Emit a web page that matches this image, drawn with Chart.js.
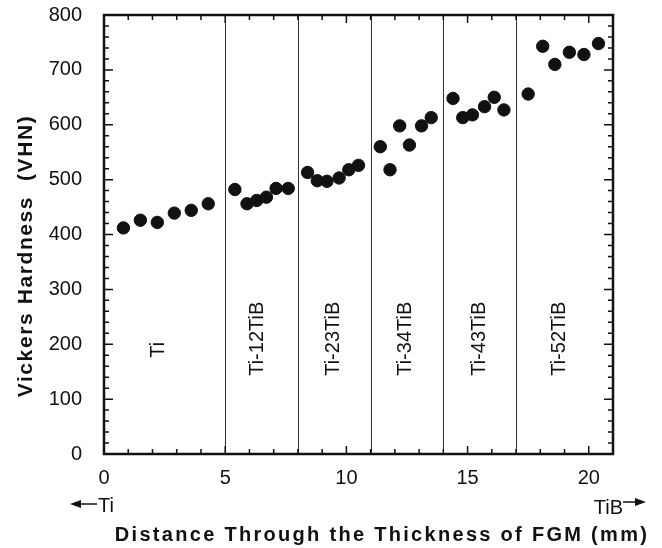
<!DOCTYPE html>
<html>
<head>
<meta charset="utf-8">
<script src="https://cdn.jsdelivr.net/npm/chart.js@4.4.1/dist/chart.umd.min.js"></script>
<style>
  html, body { margin: 0; padding: 0; background: #fff; }
  canvas { display: block; }
</style>
</head>
<body>
<canvas id="graph" width="662" height="548"></canvas>
<script>
// Dureza Vickers a lo largo del espesor del FGM
const distanciaMm = [0.8, 1.5, 2.2, 2.9, 3.6, 4.3,
                     5.4, 5.9, 6.3, 6.7, 7.1, 7.6,
                     8.4, 8.8, 9.2, 9.7, 10.1, 10.5,
                     11.4, 11.8, 12.2, 12.6, 13.1, 13.5,
                     14.4, 14.8, 15.2, 15.7, 16.1, 16.5,
                     17.5, 18.1, 18.6, 19.2, 19.8, 20.4];
const durezaVhn = [412, 426, 422, 439, 444, 456,
                   482, 456, 462, 468, 484, 484,
                   513, 498, 497, 503, 518, 526,
                   560, 518, 598, 563, 598, 613,
                   648, 613, 618, 633, 650, 627,
                   656, 743, 710, 732, 728, 748];

// Límites entre capas (mm) y nombres de cada capa
const limitesCapas = [5, 8, 11, 14, 17];
const nombresCapas = ['Ti', 'Ti-12TiB', 'Ti-23TiB', 'Ti-34TiB', 'Ti-43TiB', 'Ti-52TiB'];
const capasX = [2.26, 6.33, 9.45, 12.42, 15.5, 18.8];
const capasY = [190, 210, 210, 210, 210, 210];

const ticksX = [0, 5, 10, 15, 20];
const ticksY = [0, 100, 200, 300, 400, 500, 600, 700, 800];

const tituloX = 'Distance Through the Thickness of FGM (mm)';
const tituloY = 'Vickers Hardness  (VHN)';

const FUENTE = '"Liberation Sans", Arial, sans-serif';

// Dibuja marco, marcas interiores, separadores de capas y textos
const decoracion = {
  id: 'decoracion',
  beforeDatasetsDraw(chart) {
    const { ctx, chartArea: a, scales: { x, y } } = chart;
    ctx.save();
    // separadores de capas
    ctx.strokeStyle = '#333';
    ctx.lineWidth = 1;
    limitesCapas.forEach(v => {
      const px = Math.round(x.getPixelForValue(v)) + 0.5;
      ctx.beginPath();
      ctx.moveTo(px, a.top);
      ctx.lineTo(px, a.bottom);
      ctx.stroke();
    });
    // nombres de capas (rotados)
    ctx.fillStyle = '#111';
    ctx.font = '20px ' + FUENTE;
    ctx.textAlign = 'center';
    ctx.textBaseline = 'middle';
    nombresCapas.forEach((n, i) => {
      ctx.save();
      ctx.translate(x.getPixelForValue(capasX[i]), y.getPixelForValue(capasY[i]));
      ctx.rotate(-Math.PI / 2);
      ctx.fillText(n, 0, 0);
      ctx.restore();
    });
    ctx.restore();
  },
  afterDraw(chart) {
    const { ctx, chartArea: a, scales: { x, y } } = chart;
    ctx.save();
    ctx.strokeStyle = '#111';
    // marcas interiores
    ctx.lineWidth = 1.5;
    for (let v = 0; v <= 21; v++) {
      const px = x.getPixelForValue(v);
      const len = v % 5 === 0 ? 8 : 5;
      ctx.beginPath();
      ctx.moveTo(px, a.bottom); ctx.lineTo(px, a.bottom - len);
      ctx.moveTo(px, a.top); ctx.lineTo(px, a.top + len);
      ctx.stroke();
    }
    for (let v = 0; v <= 800; v += 20) {
      const py = y.getPixelForValue(v);
      const len = v % 100 === 0 ? 9 : 5;
      ctx.beginPath();
      ctx.moveTo(a.left, py); ctx.lineTo(a.left + len, py);
      ctx.moveTo(a.right, py); ctx.lineTo(a.right - len, py);
      ctx.stroke();
    }
    // marco
    ctx.lineWidth = 2.5;
    ctx.strokeRect(a.left, a.top, a.right - a.left, a.bottom - a.top);

    // títulos de los ejes
    ctx.fillStyle = '#111';
    ctx.font = 'bold 20px ' + FUENTE;
    ctx.textAlign = 'center';
    ctx.textBaseline = 'middle';
    ctx.letterSpacing = '2.3px';
    ctx.fillText(tituloX, 382, 535);
    ctx.font = 'bold 21px ' + FUENTE;
    ctx.letterSpacing = '1.6px';
    ctx.save();
    ctx.translate(26, 256);
    ctx.rotate(-Math.PI / 2);
    ctx.fillText(tituloY, 0, 0);
    ctx.restore();
    ctx.letterSpacing = '0px';

    // flechas Ti / TiB
    ctx.font = '20px ' + FUENTE;
    ctx.textAlign = 'left';
    ctx.fillText('Ti', 98, 506);
    ctx.textAlign = 'right';
    ctx.fillText('TiB', 623, 508);
    ctx.lineWidth = 1.5;
    ctx.beginPath();
    ctx.moveTo(78, 504); ctx.lineTo(97, 504);
    ctx.moveTo(623, 502); ctx.lineTo(638, 502);
    ctx.stroke();
    ctx.beginPath();
    ctx.moveTo(70, 504); ctx.lineTo(81, 500); ctx.lineTo(81, 508); ctx.closePath();
    ctx.moveTo(646, 502); ctx.lineTo(635, 498); ctx.lineTo(635, 506); ctx.closePath();
    ctx.fill();
    ctx.restore();
  }
};

function graficar() {
  const ctx = document.getElementById('graph').getContext('2d');
  window.miGrafica = new Chart(ctx, {
    type: 'scatter',
    data: {
      datasets: [{
        data: distanciaMm.map((d, i) => ({ x: d, y: durezaVhn[i] })),
        backgroundColor: '#111',
        borderColor: '#111',
        pointRadius: 6.2,
        pointHoverRadius: 6.2
      }]
    },
    options: {
      responsive: false,
      animation: false,
      devicePixelRatio: 1,
      layout: { padding: { left: 0, top: 15, right: 49, bottom: 0 } },
      plugins: { legend: { display: false }, tooltip: { enabled: false } },
      scales: {
        x: {
          type: 'linear', min: 0, max: 21,
          afterBuildTicks: s => { s.ticks = ticksX.map(v => ({ value: v })); },
          afterFit: s => { s.height = 94; s.paddingLeft = 0; s.paddingRight = 0; },
          grid: { display: false, drawTicks: false },
          border: { display: false },
          ticks: { color: '#111', padding: 12, maxRotation: 0, font: { family: FUENTE, size: 20 } }
        },
        y: {
          type: 'linear', min: 0, max: 800,
          afterBuildTicks: s => { s.ticks = ticksY.map(v => ({ value: v })); },
          afterFit: s => { s.width = 104; s.paddingTop = 0; s.paddingBottom = 0; },
          grid: { display: false, drawTicks: false },
          border: { display: false },
          ticks: { color: '#111', padding: 22, font: { family: FUENTE, size: 20 } }
        }
      }
    },
    plugins: [decoracion]
  });
}

graficar();
</script>
</body>
</html>
